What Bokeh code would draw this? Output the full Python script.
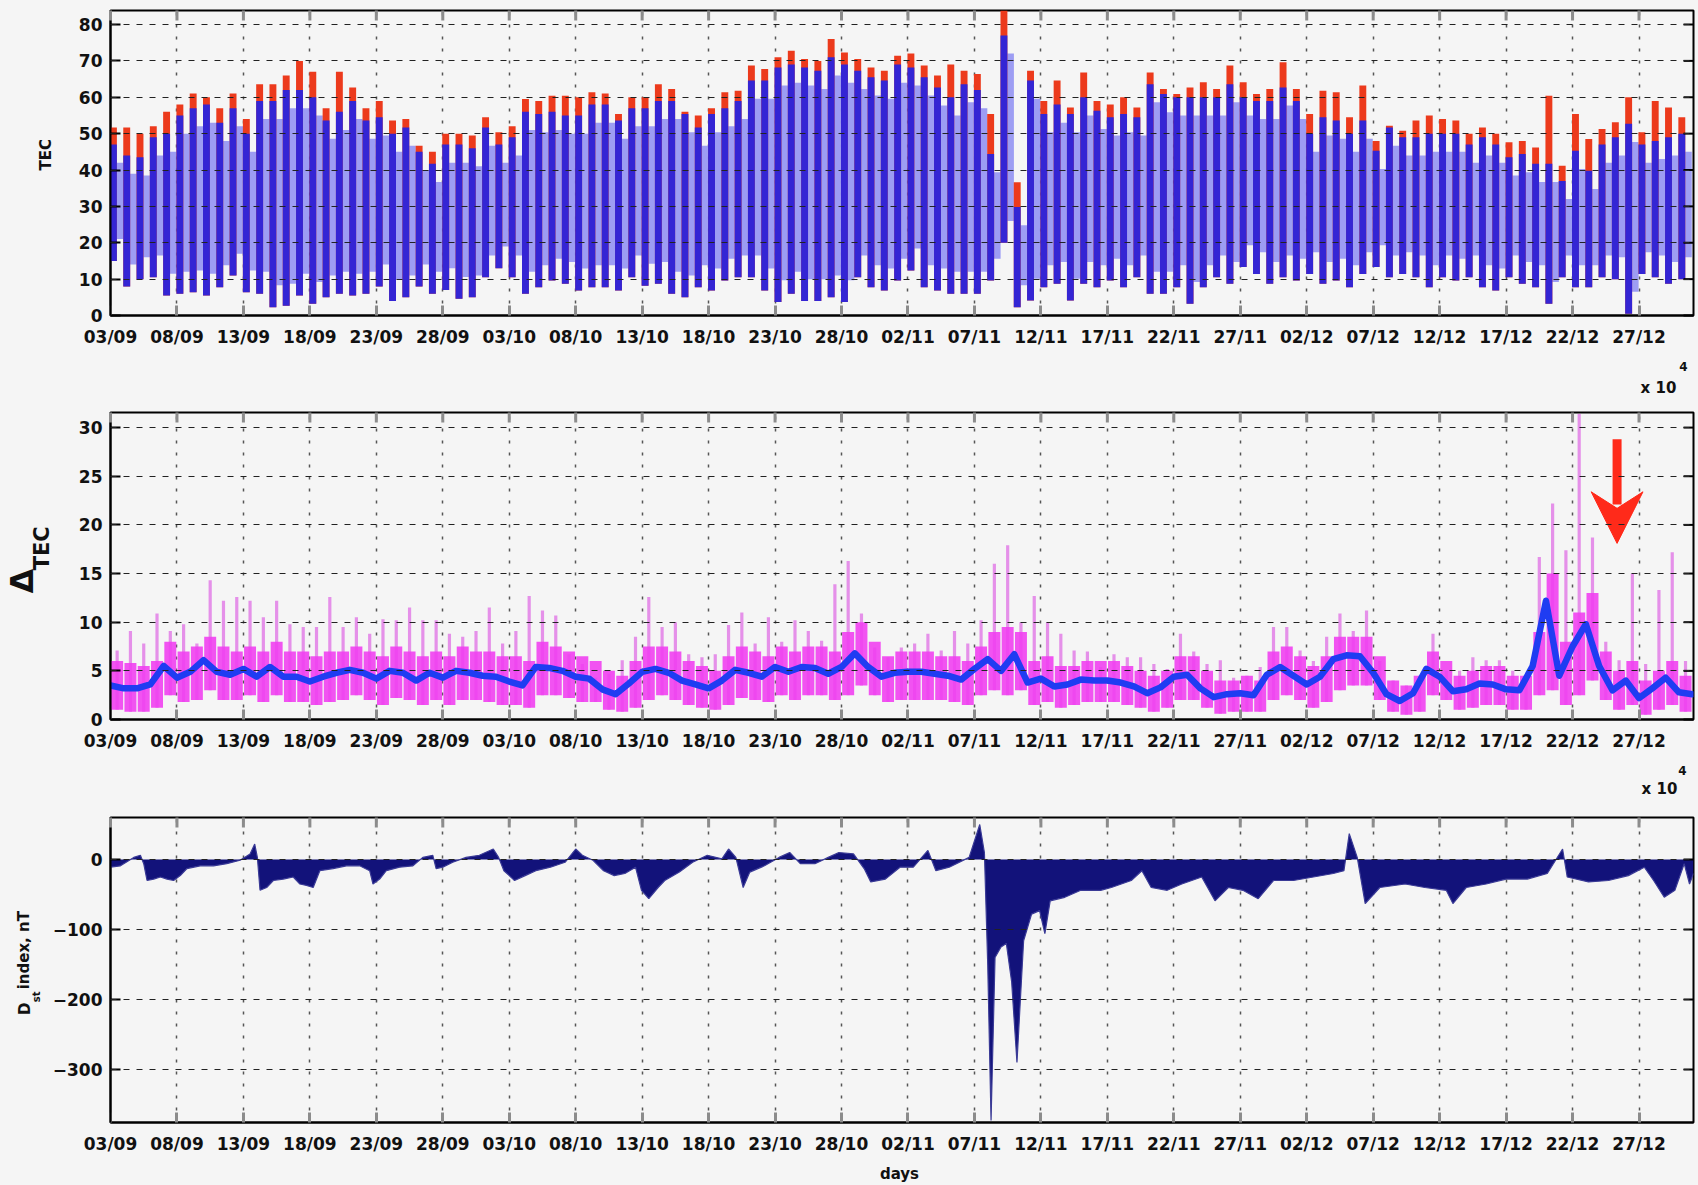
import numpy as np
from bokeh.plotting import figure
from bokeh.layouts import column, row
from bokeh.models import ColumnDataSource, FixedTicker, Range1d
from bokeh.core.properties import value
from bokeh.embed import file_html
from bokeh.resources import INLINE

# ---------------- data ----------------
# day 0 = 03/09 (00 UT); one value per day unless stated otherwise
tick_days = list(range(0, 116, 5))
tick_labels = ["03/09", "08/09", "13/09", "18/09", "23/09", "28/09", "03/10", "08/10",
               "13/10", "18/10", "23/10", "28/10", "02/11", "07/11", "12/11", "17/11",
               "22/11", "27/11", "02/12", "07/12", "12/12", "17/12", "22/12", "27/12"]

# TEC: daily maximum of the red and blue series, daily minimum
tec_red = [51.7, 51.7, 50, 52, 56, 58, 61, 60, 57, 61, 54, 63.6, 63.6, 66, 70, 67, 57, 67, 62.7, 57,
           59, 53.6, 54, 46.7, 45, 50, 50, 49.5, 54.5,
           50.4, 52, 59.5, 59, 60.4, 60.4, 60, 61.4, 61, 55.4, 60, 60, 63.6, 62.3, 56, 55, 57, 61.4,
           61.8, 68.7, 67.8, 71, 72.8, 70.5, 70, 76, 72.3, 70.5, 68.2, 67.3, 71.4, 72, 68.7, 66, 69,
           67.3, 66.4,
           55.4, 84, 36.6, 67.3, 59, 64.6, 57.2, 66.8, 59, 58, 60, 57.2, 66.8, 62.3, 60.9, 62.7, 64.1,
           62.3, 68.7, 64.1, 60.9, 62.3, 69.6, 62.3, 55.4, 61.8, 61.4, 54.5, 63.2, 48, 52.2, 50.8,
           53.6, 55, 54, 53.6, 50, 51.7, 50, 47.6, 48, 46.2, 60.4, 41.2, 55.4, 48.5, 51.3, 53.1, 60,
           50.4, 59, 57.2, 54.5]
tec_blue = [47, 44, 43.5, 49, 50, 55, 57, 58, 53, 57, 50, 59, 59, 62, 62, 60, 53.6, 56, 59, 53.6,
            54.5, 50, 51.7, 45, 41.7, 47, 47, 46, 51.7,
            47, 49, 56, 55.4, 56, 55, 55, 58, 58, 53.6, 57, 57, 59, 59, 55.4, 51.7, 55.4, 57, 59,
            64.6, 64.6, 68.2, 69, 68.2, 67.3, 71, 69, 67.3, 65.5, 64.6, 69, 68.2, 65.5, 62.7, 60,
            63.6, 62,
            44.4, 77, 29.8, 64.6, 55.4, 58, 55.4, 60, 56.3, 54.5, 55.4, 54.5, 63.6, 60.9, 60, 60, 60,
            60, 63.6, 60, 59, 59, 62.7, 59, 50, 54.5, 53.6, 50, 53.6, 45.3, 51.7, 49, 49, 50, 50, 50,
            47, 49, 47, 43.5, 44.4, 41.7, 41.7, 37, 45.3, 39.8, 47, 49, 52.7, 47, 48, 49, 50]
tec_min = [15, 8, 10, 10.5, 5.5, 6, 6.4, 5.5, 7.8, 11, 6.4, 6, 2.3, 2.7, 5.5, 3.2, 5, 6, 5.5, 6,
           8, 4, 5, 8, 6, 7, 4.6, 5, 10.5,
           13, 10.5, 6, 7.8, 9.6, 8.7, 6.9, 7.8, 7.8, 6.9, 10.5, 8.2, 8.7, 6, 5, 7.8, 6.9, 9.6, 10.5,
           10.5, 6.9, 3.7, 6, 4, 4, 5, 3.7, 10.5, 7.8, 6.9, 9.6, 12.4, 7.8, 6.9, 6, 6, 6,
           9.6, 20, 2.3, 4.1, 7.8, 8.7, 4.1, 8.7, 7.8, 9.6, 7.8, 10.5, 6, 6, 7.8, 3.2, 7.8, 10.5,
           8.7, 13.3, 11.4, 8.7, 10.5, 9.6, 11.4, 8.7, 9.6, 7.8, 11.4, 13.3, 10.5, 11.4, 10.5, 7.8,
           10.5, 9.6, 10.5, 7.8, 6.9, 10.5, 8.7, 7.8, 3.2, 10.5, 7.8, 7.8, 10.5, 10, 0.5, 11.4, 10.5,
           8.7, 10]

# Delta TEC: smoothed curve (days 0..119), daily spike maximum, daily bulk range
dtec_smooth = [3.5, 3.2, 3.2, 3.6, 5.5, 4.3, 4.9, 6.1, 4.9, 4.6, 5.2, 4.4, 5.4, 4.4, 4.4, 3.9, 4.4,
               4.8, 5.1, 4.8, 4.2, 5.0, 4.8, 4.0, 4.8, 4.3, 5.0, 4.8, 4.5, 4.4,
               3.9, 3.5, 5.4, 5.3, 5.0, 4.4, 4.2, 3.1, 2.6, 3.7, 4.9, 5.2, 4.8, 4.0, 3.6, 3.2, 4.0,
               5.1, 4.8, 4.4, 5.4, 4.9, 5.4, 5.3, 4.7, 5.4, 6.8, 5.4, 4.4, 4.8, 4.9, 4.9, 4.7, 4.5,
               4.1, 5.2,
               6.2, 5.0, 6.7, 3.8, 4.2, 3.4, 3.6, 4.1, 4.0, 4.0, 3.8, 3.4, 2.7, 3.3, 4.4, 4.6, 3.2,
               2.3, 2.6, 2.7, 2.5, 4.6, 5.4, 4.5,
               3.6, 4.4, 6.2, 6.6, 6.5, 4.8, 2.6, 1.9, 2.7, 5.2, 4.4, 2.9, 3.1, 3.7, 3.6, 3.1, 3.0,
               5.5, 12.2, 4.5, 7.5, 9.8, 5.5, 3.0, 4.0, 2.2, 3.2, 4.3, 2.8, 2.6]
dtec_spike = [7.1, 9.1, 7.8, 10.9, 9.1, 9.8, 7.8, 14.3, 12.2, 12.6, 12.2, 10.5, 12.2, 9.8, 9.5, 9.5,
              12.6, 9.5, 10.5, 8.8, 10.3, 10.2, 11.5, 10.2, 10.2, 8.8, 8.5, 9.1, 11.5, 7.8,
              9.1, 12.7, 11.2, 10.7, 6.7, 5.7, 4.3, 4.7, 6.1, 8.5, 12.6, 9.5, 10.0, 6.7, 6.4, 6.7,
              9.7, 11.0, 7.8, 10.5, 8.0, 10.2, 9.1, 8.1, 13.9, 16.3, 10.9, 7.4, 6.4, 7.4, 7.8, 8.8,
              7.1, 9.1, 7.8, 10.2,
              16.0, 17.9, 10.0, 12.7, 10.0, 8.8, 7.1, 7.0, 5.4, 6.7, 6.4, 6.4, 5.7, 5.2, 8.8, 7.0,
              5.7, 6.1, 4.3, 4.5, 5.4, 9.5, 9.5, 7.1, 6.0, 8.5, 10.9, 9.1, 11.2,
              6.0, 4.0, 3.5, 4.5, 8.8, 5.0, 5.0, 6.4, 6.1, 6.1, 5.0, 4.0, 16.7, 22.2, 17.4, 31.4,
              18.7, 8.0, 6.1, 15.0, 5.7, 13.3, 17.2, 6.0]
dtec_hi = [6.0, 5.8, 5.5, 6.0, 8.0, 7.0, 7.5, 8.5, 7.5, 7.0, 7.5, 7.0, 8.0, 7.0, 7.0, 6.5, 7.0, 7.0,
           7.5, 7.0, 6.5, 7.5, 7.0, 6.5, 7.0, 6.5, 7.5, 7.0, 7.0, 6.5,
           6.5, 6.0, 8.0, 7.5, 7.0, 6.5, 6.0, 5.0, 4.5, 6.0, 7.5, 7.5, 7.0, 6.0, 5.5, 5.0, 6.5, 7.5,
           7.0, 6.5, 7.5, 7.0, 7.5, 7.5, 7.0, 9.0, 10.0, 8.0, 6.5, 7.0, 7.0, 7.0, 6.5, 6.5, 6.0, 7.5,
           9.0, 9.5, 9.0, 6.0, 6.5, 5.5, 5.5, 6.0, 6.0, 6.0, 5.5, 5.0, 4.5, 5.0, 6.5, 6.5, 5.0, 4.0,
           4.0, 4.5, 4.0, 7.0, 7.5, 6.5, 5.5, 6.5, 8.5, 8.5, 8.5,
           6.5, 4.0, 3.5, 4.5, 7.0, 6.0, 4.5, 5.0, 5.5, 5.5, 4.5, 4.5, 9.0, 15.0, 8.0, 11.0, 13.0,
           7.0, 5.0, 6.0, 4.0, 5.0, 6.0, 4.5]
dtec_lo = [1.0, 0.8, 0.8, 1.2, 2.5, 1.8, 2.0, 3.0, 2.0, 2.0, 2.5, 1.8, 2.5, 1.8, 1.8, 1.5, 1.8, 2.0,
           2.5, 2.0, 1.5, 2.2, 2.0, 1.5, 2.0, 1.5, 2.0, 2.0, 1.8, 1.5,
           1.5, 1.2, 2.5, 2.5, 2.2, 1.8, 1.8, 1.0, 0.8, 1.2, 2.0, 2.5, 2.0, 1.5, 1.2, 1.0, 1.5, 2.2,
           2.0, 1.8, 2.5, 2.0, 2.5, 2.5, 2.0, 2.5, 3.5, 2.5, 1.8, 2.0, 2.0, 2.0, 2.0, 1.8, 1.5, 2.5,
           3.0, 2.5, 3.0, 1.5, 1.8, 1.2, 1.5, 1.8, 1.8, 1.8, 1.5, 1.2, 0.8, 1.2, 2.0, 2.0, 1.2, 0.6,
           0.8, 0.8, 0.8, 2.0, 2.5, 2.0, 1.2, 1.8, 3.0, 3.5, 3.5,
           2.0, 0.8, 0.5, 0.8, 2.5, 2.0, 1.0, 1.2, 1.5, 1.5, 1.0, 1.0, 2.5, 3.0, 1.5, 2.5, 4.0, 2.0,
           1.0, 1.5, 0.5, 1.0, 1.5, 0.8]

# Dst index (nT), irregular sampling in days
dst_day = [0, 0.75, 1.75, 2.25, 2.5, 2.75, 3.25, 3.75, 4.25, 4.75, 5.25, 5.75, 6.75, 7.75, 8.75,
           9.75, 10.5, 10.85, 11.05, 11.25, 11.75, 12.25, 13, 13.75, 14.25, 14.75, 15.25, 15.75,
           16.75, 17.75, 18.75, 19.5, 19.75, 20.25, 20.75, 21.75, 22.75, 23.5, 24.25, 24.5, 25,
           25.75, 26.75, 27.75, 28.8, 29.2, 29.6, 30.4, 31.2, 32, 33.1, 34.2, 35, 35.5, 36.3, 37.1,
           37.9, 38.7, 39.5, 39.95, 40.5, 41.2, 41.7, 42.8, 43.8, 44.9, 46, 46.5, 47.05, 47.6, 48.1,
           49.2, 50.3, 51.1, 51.9, 53, 54, 54.8, 55.9, 56.7, 57.2, 58.3, 59.4, 60.4, 61.5, 62.1,
           63.1, 64.6, 65.4, 65.75, 66.0, 66.25, 66.55, 67.0, 67.4, 67.8, 68.2, 68.4, 68.7, 69.3,
           69.9, 70.3, 70.7, 71.8, 73, 74.5, 75.3, 76.8, 77.6, 78.3, 79.5, 80.6, 82.1, 83.1, 84.1,
           85.2, 86.35, 87.5, 89, 90.5, 92, 92.8, 93.2, 93.8, 94.4, 95.5, 97.4, 98.9, 100.5, 101,
           102, 103.5, 105, 106.6, 108.1, 109.25, 109.6, 111.2, 112.7, 114.2, 115.4, 116.1, 116.9,
           117.7, 118.4, 118.8, 119.1]
dst_val = [-11, -9, 3, 6, -6, -30, -28, -25, -28, -30, -23, -13, -9, -9, -6,
           -1, 8, 22, 3, -44, -40, -30, -28, -25, -35, -37, -40, -16,
           -13, -9, -9, -16, -35, -28, -16, -11, -9, 3, 6, -13, -11,
           -4, 3, 6, 15, 3, -16, -30, -23, -16, -11, -4, 15, 6, -1, -16,
           -23, -20, -11, -44, -56, -40, -30, -18, -4, 6, 1, 15, 3, -40, -18,
           -9, 3, 10, -6, -6, 3, 10, 8, -13, -32, -28, -11, -11, 13, -16,
           -11, 3, 50, 10, -150, -373, -140, -125, -120, -175, -290, -220, -116, -78,
           -73, -106, -59, -54, -44, -44, -40, -30, -16, -40, -44, -35, -25, -59, -40,
           -44, -56, -30, -30, -25, -20, -16, 37, 3, -63, -40, -35, -40, -44, -63,
           -40, -35, -28, -28, -20, 15, -25, -32, -30, -23, -11, -30, -54,
           -44, -6, -35, -20]

# event marker (26/12)
arrow_day, arrow_top, arrow_tip = 113.35, 28.8, 18.1

# ---------------- styling ----------------
BG = "#f5f5f5"
FONT = "DejaVu Sans"
FRAME_W = 1583
X_END = 119.1
TICK_FS = "17px"
LEFT_TOTAL = 110     # distance from page edge to the left side of every box
TICK_LEN = 10        # inward tick length, px


def panel(frame_h, b_left, b_top, b_bottom, y0, y1, yticks):
    p = figure(frame_width=FRAME_W, frame_height=frame_h,
               x_range=Range1d(0, X_END), y_range=Range1d(y0, y1),
               output_backend="svg", toolbar_location=None,
               min_border_left=b_left, min_border_right=5,
               min_border_top=b_top, min_border_bottom=b_bottom,
               background_fill_color=BG, border_fill_color=BG,
               outline_line_color="black", outline_line_width=2)
    xt = FixedTicker(ticks=tick_days)
    yt = FixedTicker(ticks=yticks)
    p.xaxis.ticker = xt
    p.xaxis.major_label_overrides = {d: s for d, s in zip(tick_days, tick_labels)}
    p.yaxis.ticker = yt
    for ax in (p.xaxis[0], p.yaxis[0]):
        ax.major_label_text_font = FONT
        ax.major_label_text_font_style = "bold"
        ax.major_label_text_font_size = TICK_FS
        ax.major_label_text_color = "#111111"
        ax.minor_tick_line_color = None
        ax.major_tick_out = 0
        ax.major_tick_in = TICK_LEN
        ax.axis_line_color = "black"
        ax.axis_line_width = 2
    p.xaxis.major_tick_line_color = "#8c8c8c"
    p.xaxis.major_tick_line_width = 3
    p.xaxis.major_label_standoff = 11
    p.yaxis.major_tick_line_color = "black"
    p.yaxis.major_tick_line_width = 2
    p.yaxis.major_label_standoff = 8

    p.xgrid.ticker = xt
    p.xgrid.grid_line_color = "#555555"
    p.xgrid.grid_line_dash = "3 9"
    p.xgrid.grid_line_width = 1.5
    p.ygrid.ticker = yt
    p.ygrid.grid_line_color = "#222222"
    p.ygrid.grid_line_dash = "6 7"
    p.ygrid.grid_line_width = 1
    p.ygrid.level = "overlay"

    # inward ticks on the top and right edges of the box
    dy = TICK_LEN * (y1 - y0) / frame_h
    dx = TICK_LEN * X_END / FRAME_W
    p.segment(x0=tick_days, y0=[y1 - dy] * len(tick_days), x1=tick_days, y1=[y1] * len(tick_days),
              line_color="#8c8c8c", line_width=3, level="overlay")
    p.segment(x0=[X_END - dx] * len(yticks), y0=yticks, x1=[X_END] * len(yticks), y1=yticks,
              line_color="black", line_width=2, level="overlay")
    return p


def strip(width, height):
    """Blank canvas measured in pixels (y downward from its top edge) for free text."""
    f = figure(width=width, height=height, x_range=Range1d(0, width), y_range=Range1d(height, 0),
               x_axis_type=None, y_axis_type=None, toolbar_location=None,
               output_backend="svg", min_border=0,
               background_fill_color=BG, border_fill_color=BG, outline_line_color=None)
    f.xgrid.visible = False
    f.ygrid.visible = False
    return f


def put(f, x, y, s, size, angle=0.0, align="center"):
    f.text(x=[x], y=[y], text=[s], angle=angle, text_font=value(FONT),
           text_font_style="bold", text_font_size=size, text_color="#111111",
           text_align=align, text_baseline="middle")


days = np.arange(len(tec_red))
ROT = np.pi / 2

# ---------------- panel 1: TEC ----------------
side1 = 58
p1 = panel(305, LEFT_TOTAL - side1, 10, 40, 0, 83.85, list(range(0, 81, 10)))
tec_src = ColumnDataSource(dict(
    xb=days + 0.22, xn=days + 0.72,
    red=tec_red, blue=tec_blue, lo=tec_min,
    n_lo=np.array(tec_min) + 6, n_hi=np.array(tec_blue) - 5,
))
p1.vbar(x="xn", width=0.5, bottom="n_lo", top="n_hi", source=tec_src,
        fill_color="#9393f3", line_color=None, fill_alpha=0.9)
p1.vbar(x="xb", width=0.52, bottom="lo", top="red", source=tec_src,
        fill_color="#ec3a1c", line_color=None)
p1.vbar(x="xb", width=0.52, bottom="lo", top="blue", source=tec_src,
        fill_color="#2424e4", line_color=None, fill_alpha=0.92)
s1 = strip(side1, 355)
put(s1, 45, 168, "TEC", "15px", angle=ROT)
e1 = strip(1698, 40)
put(e1, 1658, 387 - 355, "x 10", "15px")
put(e1, 1683, 366 - 355, "4", "12px")

# ---------------- panel 2: Delta TEC ----------------
side2 = 58
p2 = panel(307, LEFT_TOTAL - side2, 17, 40, 0, 31.55, list(range(0, 31, 5)))
d_src = ColumnDataSource(dict(x=days + 0.5, lo=dtec_lo, hi=dtec_hi, spike=dtec_spike))
p2.vbar(x="x", width=0.24, bottom="lo", top="spike", source=d_src,
        fill_color="#e48ae8", line_color=None, fill_alpha=0.95)
p2.vbar(x="x", width=0.9, bottom="lo", top="hi", source=d_src,
        fill_color="#f03cf0", line_color=None, fill_alpha=0.88)
p2.line(np.arange(len(dtec_smooth)), dtec_smooth, line_color="#1f3cf2", line_width=6.5,
        line_join="round", line_cap="round")
# event arrow
p2.line([arrow_day, arrow_day], [arrow_top, arrow_tip + 4.0], line_color="#ff2a1a",
        line_width=9)
p2.patch([arrow_day, arrow_day - 1.95, arrow_day, arrow_day + 1.95],
         [arrow_tip, arrow_tip + 5.3, arrow_tip + 3.6, arrow_tip + 5.3],
         fill_color="#ff2a1a", line_color="#ff2a1a", line_width=1)
s2 = strip(side2, 364)
put(s2, 21.5, 595 - 395, "\u0394", "32px", angle=ROT)
put(s2, 41, 556 - 395, "TEC", "21px", angle=ROT)
e2 = strip(1698, 43)
put(e2, 1659, 788 - 759, "x 10", "15px")
put(e2, 1682, 770 - 759, "4", "12px")

# ---------------- panel 3: Dst ----------------
side3 = 44
p3 = panel(305, LEFT_TOTAL - side3, 15, 35, -375.7, 60, [-300, -200, -100, 0])
p3.varea(x=dst_day, y1=0, y2=dst_val, fill_color="#12127a")
p3.line(dst_day, dst_val, line_color="#3a3a96", line_width=1.2)
s3 = strip(side3, 355)
put(s3, 24, 1032 - 802, "D", "15px", angle=ROT, align="left")
put(s3, 36, 1017 - 802, "st", "10px", angle=ROT, align="left")
put(s3, 23, 1002 - 802, " index, nT", "15px", angle=ROT, align="left")
e3 = strip(1698, 28)
put(e3, 899, 1173 - 1157, "days", "15px")

layout = column(row(s1, p1, spacing=0), e1,
                row(s2, p2, spacing=0), e2,
                row(s3, p3, spacing=0), e3,
                spacing=0, background=BG)
with open("out.html", "w") as f:
    f.write(file_html(layout, INLINE))
